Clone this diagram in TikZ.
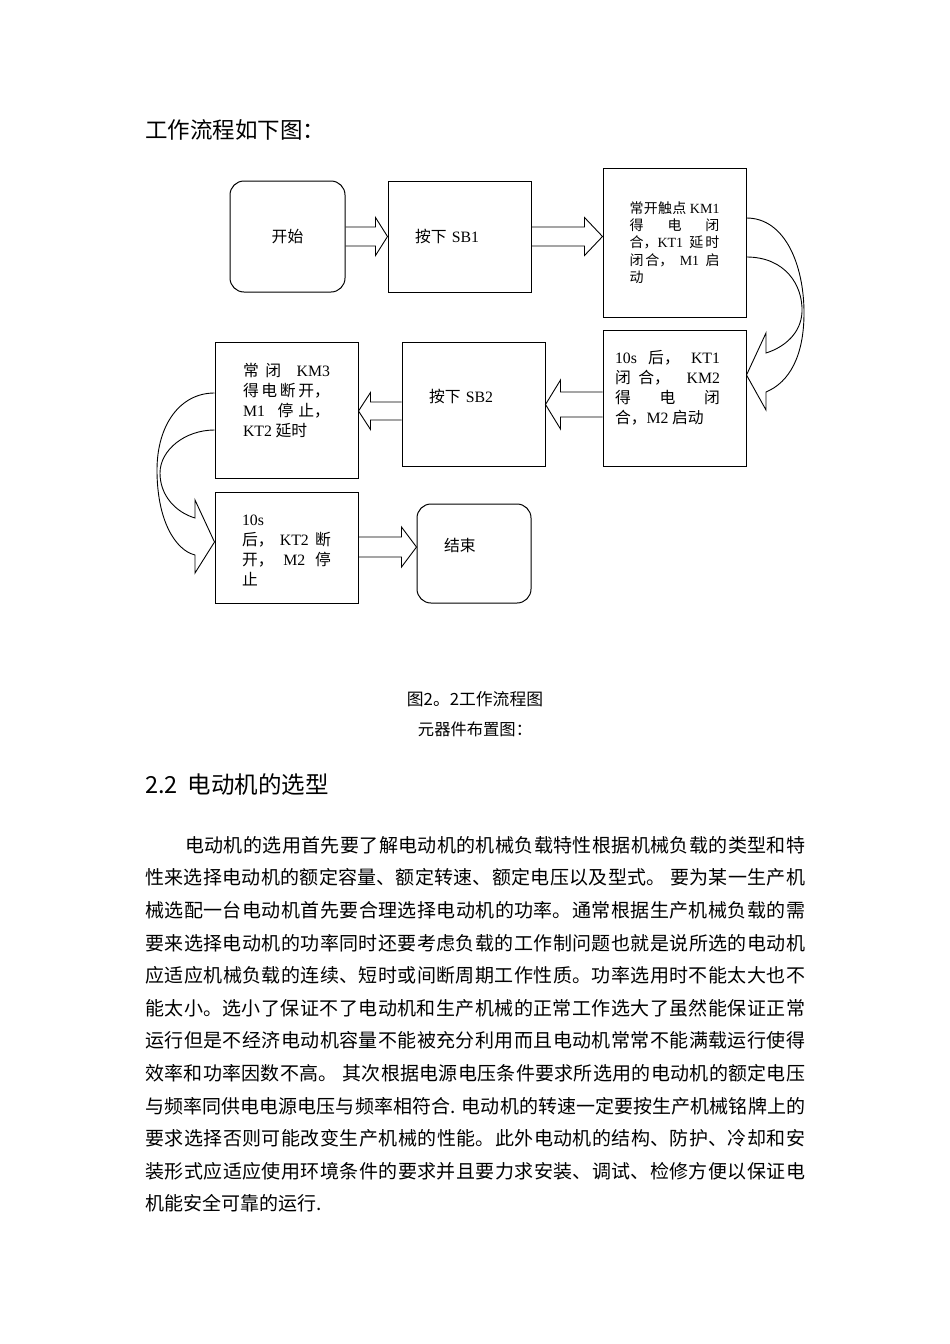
\documentclass[tikz,border=0pt]{standalone}
\usepackage{fontspec}
\setmainfont{Noto Sans CJK SC}
\newfontfamily\enfont{Liberation Serif}
\usetikzlibrary{calc}
\XeTeXlinebreaklocale "zh"
\XeTeXlinebreakskip=0pt plus 1pt

% 空心箭头：起点, 终点, 中线 y, 箭杆半宽, 箭头半宽, 箭头长度（负值向左）
\newcommand{\fatarrow}[6]{%
  \draw[fatline] let \p1=(#1), \p2=(#2) in
    (\x1,{#3-#4}) -- ({\x2-(#6)},{#3-#4}) -- ({\x2-(#6)},{#3-#5}) -- (\x2,#3)
    -- ({\x2-(#6)},{#3+#5}) -- ({\x2-(#6)},{#3+#4}) -- (\x1,{#3+#4});}

\begin{document}
\begin{tikzpicture}[
        x=1pt, y=-1pt,
        box/.style={rectangle, draw, line width=1pt, inner sep=0pt, minimum width=143pt,
                    font=\fontsize{15.8pt}{20pt}\selectfont},
        roundbox/.style={box, rounded corners=14pt},
        fatline/.style={line width=0.9pt, line join=miter},
        curvearrow/.style={line width=0.9pt}
    ]
    \path[use as bounding box, fill=white] (0,0) rectangle (950,1344);

    % 标题
    \node[anchor=base west, inner sep=0pt, font=\fontsize{22.5pt}{27pt}\selectfont] (title) at (145,138.5) {工作流程如下图：};

    % 流程框
    \node[roundbox, minimum width=115pt, minimum height=111pt] (start) at (287.5,236.5) {开始};
    \node[box, minimum height=111pt, text width=89pt, align=left] (sb1) at (459.5,236.5) {按下 {\enfont SB1}};
    \node[box, minimum height=149pt, text width=90pt, align=justify, font=\fontsize{14pt}{17.3pt}\selectfont] (km1) at (674.5,242.5)
        {常开触点 {\enfont KM1}\linebreak 得电闭\linebreak 合，{\enfont KT1} 延时\linebreak 闭合， {\enfont M1} 启\linebreak 动};
    \node[box, minimum height=136pt, text width=105pt, align=justify, text depth=82pt] (kt1) at (674.5,398)
        {\leftskip=-7pt\rightskip=7pt
         {\enfont 10s} 后， {\enfont KT1}\linebreak 闭合， {\enfont KM2}\linebreak 得电闭\linebreak 合，{\enfont M2} 启动\par};
    \node[box, minimum height=124pt, text width=89pt, align=left, text depth=16pt] (sb2) at (473.5,404) {按下 {\enfont SB2}};
    \node[box, minimum height=136pt, text width=87pt, align=justify, text depth=80pt] (km3) at (286.5,410)
        {常闭 {\enfont KM3}\linebreak 得电断开，\linebreak {\enfont M1} 停止，\linebreak {\enfont KT2} 延时};
    \node[box, minimum height=111pt, text width=89pt, align=justify, text depth=54pt] (kt2) at (286.5,547.5)
        {{\enfont 10s}\\ 后， {\enfont KT2} 断\linebreak 开， {\enfont M2} 停\linebreak 止};
    \node[roundbox, minimum width=114pt, minimum height=99pt, text width=60pt, align=left, text depth=17pt] (finish) at (474,553.5) {结束};

    % 直箭头
    \fatarrow{start.east}{sb1.west}{236.5}{9.5}{19}{12}
    \fatarrow{sb1.east}{km1.west}{236.5}{9.5}{19}{18}
    \fatarrow{kt1.west}{sb2.east}{404.5}{12.5}{24.5}{-15}
    \fatarrow{sb2.west}{km3.east}{411}{9}{18.5}{-12}
    \fatarrow{kt2.east}{finish.west}{547}{10}{20}{15}

    % 弯箭头
    \draw[curvearrow] (km1.east |- 0,218) .. controls (785,218) and (804,265) .. (804,313)
        .. controls (804,355) and (790,382) .. (766,392) -- (766,410) -- (kt1.east |- 0,375)
        -- (766,333) -- (766,353) .. controls (785,347) and (801,333) .. (802,312)
        .. controls (803,285) and (785,257) .. (km1.east |- 0,257);
    \draw[curvearrow] (km3.west |- 0,393) .. controls (180,393) and (157,425) .. (157,470)
        .. controls (157,520) and (175,550) .. (195,555) -- (195,573) -- (kt2.west |- 0,542)
        -- (195,500) -- (195,518) .. controls (175,512) and (160,495) .. (160,473)
        .. controls (160,450) and (185,430) .. (km3.west |- 0,430);

    % 图题
    \node[anchor=base, inner sep=0pt, font=\fontsize{16.8pt}{20pt}\selectfont] (caption) at (475,705) {图2。2工作流程图};
    \node[anchor=base, inner sep=0pt, font=\fontsize{16.3pt}{20pt}\selectfont] (layout) at (475,735) {元器件布置图：};

    % 正文
    \node[anchor=base west, inner sep=0pt, font=\fontsize{23.5pt}{28pt}\selectfont] (heading) at (145,793) {2.2\hspace{10pt}电动机的选型};
    \node[anchor=base west, inner sep=0pt, text width=660pt, align=justify, font=\fontsize{19pt}{32.6pt}\selectfont] (body) at (145,852.3)
        {\hspace*{40pt}电动机的选用首先要了解电动机的机械负载特性根据机械负载的类型和特\linebreak
         性来选择电动机的额定容量、额定转速、额定电压以及型式。 要为某一生产机\linebreak
         械选配一台电动机首先要合理选择电动机的功率。通常根据生产机械负载的需\linebreak
         要来选择电动机的功率同时还要考虑负载的工作制问题也就是说所选的电动机\linebreak
         应适应机械负载的连续、短时或间断周期工作性质。功率选用时不能太大也不\linebreak
         能太小。选小了保证不了电动机和生产机械的正常工作选大了虽然能保证正常\linebreak
         运行但是不经济电动机容量不能被充分利用而且电动机常常不能满载运行使得\linebreak
         效率和功率因数不高。 其次根据电源电压条件要求所选用的电动机的额定电压\linebreak
         与频率同供电电源电压与频率相符合. 电动机的转速一定要按生产机械铭牌上的\linebreak
         要求选择否则可能改变生产机械的性能。此外电动机的结构、防护、冷却和安\linebreak
         装形式应适应使用环境条件的要求并且要力求安装、调试、检修方便以保证电\linebreak
         机能安全可靠的运行.};
\end{tikzpicture}
\end{document}
